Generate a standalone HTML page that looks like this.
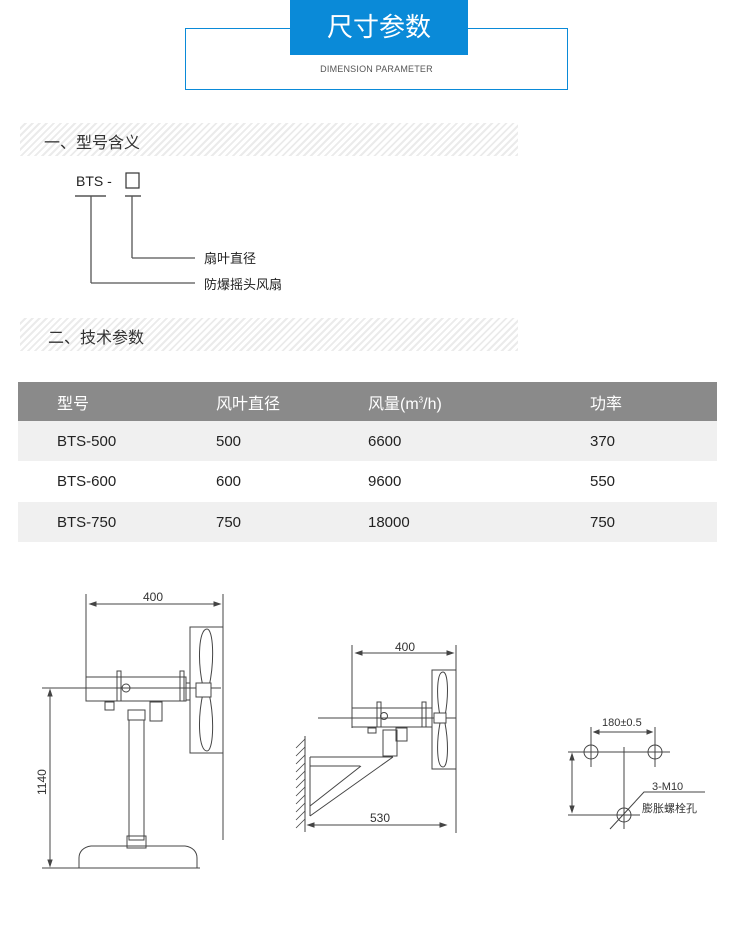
<!DOCTYPE html>
<html><head><meta charset="utf-8"><style>
*{margin:0;padding:0;box-sizing:border-box}
body{width:750px;height:947px;background:#fff;position:relative;font-family:"Liberation Sans","Noto Sans CJK SC",sans-serif;color:#333;overflow:hidden}
.abs{position:absolute}
.band{position:absolute;left:20px;width:498px;height:33px;background:repeating-linear-gradient(135deg,#fff 0 3px,#ebebeb 3px 5px)}
.band span{position:absolute;top:6px;font-size:16px;color:#333}
table{position:absolute;left:18px;top:382px;width:699px;border-collapse:collapse;font-size:15px}
td{height:40px;padding:0;color:#222}
tr.h td{background:#8a8a8a;color:#fff;height:39px;font-size:16px}
tr.g td{background:#f0f0f0}
</style></head><body>
<div class="abs" style="left:185px;top:28px;width:383px;height:62px;border:1.5px solid #0a8ad8"></div>
<div class="abs" style="left:290px;top:0;width:178px;height:55px;background:#0a8ad8;color:#fff;font-size:26px;text-align:center;line-height:55px">尺寸参数</div>
<div class="abs" style="left:185px;top:64px;width:383px;text-align:center;font-size:9px;color:#555;letter-spacing:0.2px">DIMENSION PARAMETER</div>

<div class="band" style="top:123px"><span style="left:24px">一、型号含义</span></div>
<div class="band" style="top:318px"><span style="left:28px">二、技术参数</span></div>

<svg class="abs" style="left:0;top:160px" width="320" height="140">
<text x="76" y="26" font-size="14" fill="#222" font-family="Liberation Sans">BTS -</text>
<rect x="126" y="13" width="13" height="15" fill="none" stroke="#333" stroke-width="1.2"/>
<line x1="75" y1="36" x2="106" y2="36" stroke="#555" stroke-width="1.5"/>
<line x1="125" y1="36" x2="141" y2="36" stroke="#555" stroke-width="1.5"/>
<line x1="91" y1="36" x2="91" y2="123" stroke="#555" stroke-width="1.3"/>
<line x1="91" y1="123" x2="195" y2="123" stroke="#555" stroke-width="1.3"/>
<line x1="132" y1="36" x2="132" y2="98" stroke="#555" stroke-width="1.3"/>
<line x1="132" y1="98" x2="195" y2="98" stroke="#555" stroke-width="1.3"/>
<text x="204" y="103" font-size="13" fill="#222">扇叶直径</text>
<text x="204" y="129" font-size="13" fill="#222">防爆摇头风扇</text>
</svg>

<table>
<tr class="h"><td style="padding-left:39px;width:198px">型号</td><td style="width:152px">风叶直径</td><td style="width:222px">风量(m<sup style="font-size:8px">3</sup>/h)</td><td>功率</td></tr>
<tr class="g"><td style="padding-left:39px">BTS-500</td><td>500</td><td>6600</td><td>370</td></tr>
<tr><td style="padding-left:39px;height:41px">BTS-600</td><td>600</td><td>9600</td><td>550</td></tr>
<tr class="g"><td style="padding-left:39px">BTS-750</td><td>750</td><td>18000</td><td>750</td></tr>
</table>

<svg class="abs" style="left:0;top:0" width="750" height="947" font-family="Liberation Sans" fill="none" stroke="#444" stroke-width="1">
<!-- Left drawing -->
<line x1="86" y1="594" x2="86" y2="700"/>
<line x1="223" y1="594" x2="223" y2="840"/>
<line x1="90" y1="604" x2="220" y2="604"/>
<path d="M90 604l6-2v4zM220 604l-6-2v4z" fill="#444"/>
<text x="143" y="601" font-size="12" fill="#333" stroke="none">400</text>
<rect x="86" y="677" width="100" height="24"/>
<path d="M117 701v-30h4v30M180 701v-30h4v30"/>
<circle cx="126" cy="688" r="4"/>
<line x1="42" y1="688" x2="221" y2="688"/>
<rect x="186" y="683" width="4" height="17"/>
<rect x="190" y="627" width="33" height="126"/>
<path d="M207 629c-8 0-10 30-4 58h6c6-28 4-58-2-58zM207 751c-8 0-10-30-4-58h6c6 28 4 58-2 58z"/>
<rect x="196" y="683" width="15" height="14" fill="#fff"/>
<rect x="105" y="702" width="9" height="8"/>
<rect x="150" y="702" width="12" height="19"/>
<rect x="128" y="710" width="17" height="10"/>
<rect x="129" y="720" width="15" height="120"/>
<rect x="127" y="836" width="19" height="12"/>
<path d="M79 868v-10c0-6 4-11 12-12h94c8 1 12 6 12 12v10z"/>
<line x1="42" y1="868" x2="200" y2="868"/>
<line x1="50" y1="690" x2="50" y2="866"/>
<path d="M50 690l-2 6h4zM50 866l-2-6h4z" fill="#444"/>
<text transform="translate(46 795) rotate(-90)" font-size="12" fill="#333" stroke="none">1140</text>

<!-- Middle drawing -->
<line x1="352" y1="645" x2="352" y2="728"/>
<line x1="456" y1="645" x2="456" y2="833"/>
<line x1="356" y1="653" x2="453" y2="653"/>
<path d="M356 653l6-2v4zM453 653l-6-2v4z" fill="#444"/>
<text x="395" y="651" font-size="12" fill="#333" stroke="none">400</text>
<line x1="318" y1="718" x2="456" y2="718"/>
<rect x="352" y="708" width="80" height="19"/>
<path d="M377 727v-25h4v25M422 727v-25h4v25"/>
<circle cx="384" cy="716" r="3.5"/>
<rect x="432" y="670" width="24" height="99"/>
<path d="M443 672c-6 0-7 22-3 44h5c4-22 3-44-2-44zM443 767c-6 0-7-22-3-44h5c4 22 3 44-2 44z"/>
<rect x="434" y="713" width="12" height="10" fill="#fff"/>
<rect x="368" y="728" width="8" height="5"/>
<rect x="383" y="730" width="14" height="26"/>
<rect x="396" y="728" width="11" height="13"/>
<line x1="305" y1="742" x2="305" y2="828"/>
<path d="M305 742v-6M305 828v4"/>
<g stroke-width="0.8">
<path d="M296 748l9-9M296 756l9-9M296 764l9-9M296 772l9-9M296 780l9-9M296 788l9-9M296 796l9-9M296 804l9-9M296 812l9-9M296 820l9-9M296 828l9-9"/>
</g>
<path d="M310 757h83M310 766h50M310 766v50M310 806l51-40M310 816l83-59"/>
<line x1="310" y1="757" x2="310" y2="816"/>
<line x1="308" y1="825" x2="446" y2="825"/>
<path d="M308 825l6-2v4zM446 825l-6-2v4z" fill="#444"/>
<text x="370" y="822" font-size="12" fill="#333" stroke="none">530</text>

<!-- Right drawing -->
<line x1="591" y1="727" x2="591" y2="767"/>
<line x1="655" y1="727" x2="655" y2="767"/>
<line x1="594" y1="732" x2="652" y2="732"/>
<path d="M594 732l5-2v4zM652 732l-5-2v4z" fill="#444"/>
<text x="602" y="726" font-size="11" fill="#333" stroke="none">180±0.5</text>
<line x1="568" y1="752" x2="670" y2="752"/>
<circle cx="591" cy="752" r="7"/>
<circle cx="655" cy="752" r="7"/>
<line x1="624" y1="747" x2="624" y2="829"/>
<line x1="568" y1="815" x2="640" y2="815"/>
<circle cx="624" cy="815" r="7"/>
<line x1="572" y1="754" x2="572" y2="812"/>
<path d="M572 754l-2 6h4zM572 812l-2-6h4z" fill="#444"/>
<path d="M610 829l34-37h61"/>
<text x="652" y="790" font-size="11" fill="#333" stroke="none">3-M10</text>
<text x="642" y="812" font-size="11" fill="#333" stroke="none">膨胀螺栓孔</text>
</svg>
</body></html>
